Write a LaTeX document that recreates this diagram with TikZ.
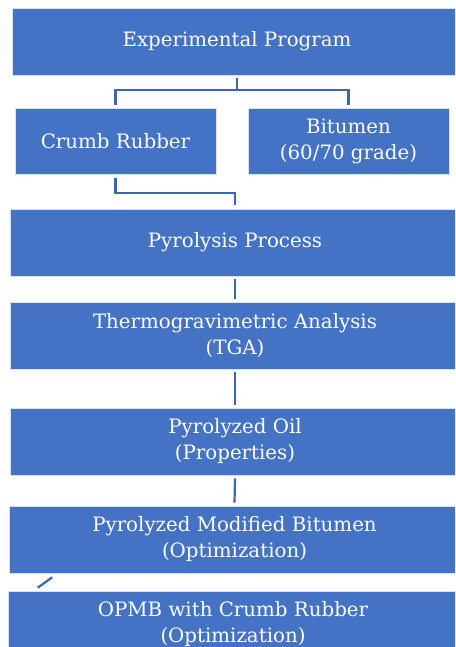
\documentclass[tikz,border=0pt]{standalone}
\usepackage{fontspec}
\setmainfont{DejaVu Serif}
\usetikzlibrary{calc}
\definecolor{boxblue}{HTML}{4472C4}
\definecolor{lineblue}{HTML}{3C65B2}
\begin{document}
\begin{tikzpicture}[x=1pt,y=-1pt,
  box/.style={rectangle, fill=boxblue, draw=white!80!boxblue, line width=0.6pt, text=white, align=center,
    font=\fontsize{19.8}{26}\selectfont, inner sep=0pt},
  wide/.style={box, minimum width=450pt, minimum height=67pt},
  half/.style={box, minimum width=201pt, minimum height=66pt},
  conn/.style={draw=lineblue, line width=2.2pt}]
\useasboundingbox (0,0) rectangle (455,647);
\clip (0,0) rectangle (455,647);
\fill[white] (0,0) rectangle (455,647);
\node[wide] (top) at (237,41.5) {Experimental Program};
\node[half] (cr) at (115.5,141) {Crumb Rubber};
\node[half] (bit) at (348.5,141) {Bitumen\\(60/70 grade)};
\node[wide] (pyr) at (235,242.5) {Pyrolysis Process};
\node[wide] (tga) at (235,335.5) {Thermogravimetric Analysis\\(TGA)};
\node[wide] (oil) at (235,441.5) {Pyrolyzed Oil\\(Properties)};
\node[wide] (pmb) at (234.5,539.5) {Pyrolyzed Modified Bitumen\\(Optimization)};
\node[wide] (opmb) at (233,624.5) {OPMB with Crumb Rubber\\(Optimization)};
\coordinate (j1) at ($(top.south)+(0,15)$);
\draw[conn] ([yshift=-3pt]top.south) -- (j1) -| ([yshift=3pt]cr.north);
\draw[conn] (j1) -| ([yshift=3pt]bit.north);
\coordinate (j2) at ($(cr.south)+(0,19)$);
\draw[conn] ([yshift=-4pt]cr.south) -- (j2) -| ([yshift=4pt]pyr.north);
\draw[conn] ([yshift=-3pt]pyr.south) -- ([yshift=3pt]tga.north);
\draw[conn] ([yshift=-3pt]tga.south) -- ([yshift=3pt]oil.north);
\draw[conn] ([yshift=-3pt]oil.south) -- ([yshift=3pt]pmb.north);
\draw[conn] ($(pmb.south west)+(43,4)$) -- ($(opmb.north west)+(30,-3)$);
\end{tikzpicture}
\end{document}
